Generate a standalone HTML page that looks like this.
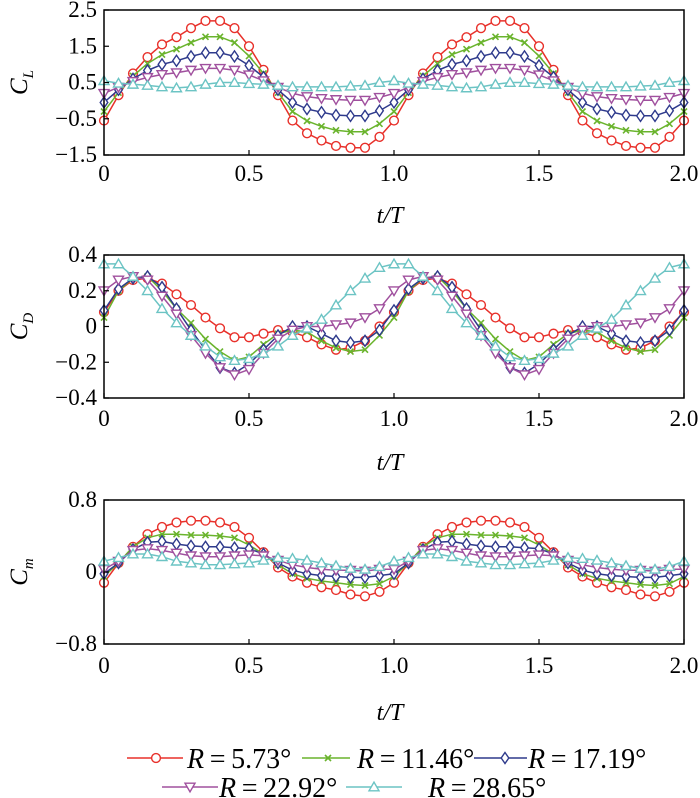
<!DOCTYPE html>
<html><head><meta charset="utf-8">
<style>
body{margin:0;background:#fff;}
svg{display:block;font-family:"Liberation Serif",serif;}
</style></head>
<body>
<svg id="chart" width="700" height="798" viewBox="0 0 700 798" xmlns="http://www.w3.org/2000/svg"></svg>
<script>
const tVals = [0,0.05,0.1,0.15,0.2,0.25,0.3,0.35,0.4,0.45,0.5,0.55,0.6,0.65,0.7,0.75,0.8,0.85,0.9,0.95,1.0,1.05,1.1,1.15,1.2,1.25,1.3,1.35,1.4,1.45,1.5,1.55,1.6,1.65,1.7,1.75,1.8,1.85,1.9,1.95,2.0];
const seriesNames = ["R=5.73°","R=11.46°","R=17.19°","R=22.92°","R=28.65°"];
const xTicks = [0,0.5,1.0,1.5,2.0];
const xTickLabels = ["0","0.5","1.0","1.5","2.0"];

const clRed = [-0.55,0.15,0.75,1.2,1.55,1.75,2.0,2.2,2.2,2.0,1.5,0.85,0.15,-0.55,-0.9,-1.1,-1.25,-1.3,-1.3,-1.0,-0.55,0.15,0.75,1.2,1.55,1.75,2.0,2.2,2.2,2.0,1.5,0.85,0.15,-0.55,-0.9,-1.1,-1.25,-1.3,-1.3,-1.0,-0.55];
const clGreen = [-0.3,0.22,0.68,1.02,1.27,1.42,1.6,1.76,1.76,1.6,1.23,0.75,0.22,-0.3,-0.56,-0.71,-0.82,-0.86,-0.86,-0.64,-0.3,0.22,0.68,1.02,1.27,1.42,1.6,1.76,1.76,1.6,1.23,0.75,0.22,-0.3,-0.56,-0.71,-0.82,-0.86,-0.86,-0.64,-0.3];
const clBlue = [-0.05,0.3,0.6,0.83,1.0,1.1,1.22,1.32,1.32,1.22,0.97,0.65,0.3,-0.05,-0.23,-0.32,-0.4,-0.42,-0.42,-0.28,-0.05,0.3,0.6,0.83,1.0,1.1,1.22,1.32,1.32,1.22,0.97,0.65,0.3,-0.05,-0.23,-0.32,-0.4,-0.42,-0.42,-0.28,-0.05];
const clPurple = [0.2,0.37,0.53,0.64,0.72,0.77,0.84,0.89,0.89,0.84,0.71,0.55,0.37,0.2,0.11,0.06,0.03,0.01,0.01,0.09,0.2,0.37,0.53,0.64,0.72,0.77,0.84,0.89,0.89,0.84,0.71,0.55,0.37,0.2,0.11,0.06,0.03,0.01,0.01,0.09,0.2];
const clCyan = [0.55,0.48,0.45,0.42,0.38,0.35,0.38,0.45,0.5,0.5,0.47,0.45,0.42,0.38,0.38,0.38,0.38,0.4,0.42,0.5,0.55,0.48,0.45,0.42,0.38,0.35,0.38,0.45,0.5,0.5,0.47,0.45,0.42,0.38,0.38,0.38,0.38,0.4,0.42,0.5,0.55];

const cdRed = [0.08,0.2,0.26,0.27,0.24,0.18,0.12,0.05,-0.01,-0.06,-0.06,-0.04,-0.02,-0.03,-0.06,-0.1,-0.13,-0.12,-0.08,0.0,0.08,0.2,0.26,0.27,0.24,0.18,0.12,0.05,-0.01,-0.06,-0.06,-0.04,-0.02,-0.03,-0.06,-0.1,-0.13,-0.12,-0.08,0.0,0.08];
const cdGreen = [0.05,0.2,0.27,0.28,0.2,0.1,0.02,-0.07,-0.14,-0.19,-0.17,-0.1,-0.04,-0.02,-0.03,-0.08,-0.12,-0.14,-0.13,-0.05,0.05,0.2,0.27,0.28,0.2,0.1,0.02,-0.07,-0.14,-0.19,-0.17,-0.1,-0.04,-0.02,-0.03,-0.08,-0.12,-0.14,-0.13,-0.05,0.05];
const cdBlue = [0.09,0.21,0.27,0.28,0.22,0.1,-0.02,-0.13,-0.23,-0.26,-0.21,-0.13,-0.05,0.0,0.0,-0.04,-0.08,-0.09,-0.08,-0.02,0.09,0.21,0.27,0.28,0.22,0.1,-0.02,-0.13,-0.23,-0.26,-0.21,-0.13,-0.05,0.0,0.0,-0.04,-0.08,-0.09,-0.08,-0.02,0.09];
const cdPurple = [0.2,0.26,0.28,0.26,0.17,0.07,-0.05,-0.15,-0.23,-0.27,-0.24,-0.15,-0.07,-0.02,0.0,0.0,0.01,0.02,0.05,0.1,0.2,0.26,0.28,0.26,0.17,0.07,-0.05,-0.15,-0.23,-0.27,-0.24,-0.15,-0.07,-0.02,0.0,0.0,0.01,0.02,0.05,0.1,0.2];
const cdCyan = [0.35,0.35,0.28,0.2,0.1,0.02,-0.05,-0.11,-0.17,-0.19,-0.18,-0.15,-0.11,-0.05,-0.01,0.04,0.12,0.2,0.27,0.33,0.35,0.35,0.28,0.2,0.1,0.02,-0.05,-0.11,-0.17,-0.19,-0.18,-0.15,-0.11,-0.05,-0.01,0.04,0.12,0.2,0.27,0.33,0.35];

const cmRed = [-0.12,0.1,0.28,0.42,0.5,0.55,0.57,0.57,0.55,0.5,0.38,0.22,0.05,-0.05,-0.12,-0.17,-0.2,-0.25,-0.27,-0.22,-0.12,0.1,0.28,0.42,0.5,0.55,0.57,0.57,0.55,0.5,0.38,0.22,0.05,-0.05,-0.12,-0.17,-0.2,-0.25,-0.27,-0.22,-0.12];
const cmGreen = [-0.05,0.1,0.28,0.38,0.42,0.42,0.41,0.41,0.4,0.38,0.3,0.2,0.08,-0.02,-0.07,-0.1,-0.12,-0.14,-0.15,-0.13,-0.05,0.1,0.28,0.38,0.42,0.42,0.41,0.41,0.4,0.38,0.3,0.2,0.08,-0.02,-0.07,-0.1,-0.12,-0.14,-0.15,-0.13,-0.05];
const cmBlue = [-0.02,0.1,0.25,0.33,0.34,0.31,0.29,0.28,0.28,0.27,0.26,0.2,0.1,0.02,-0.02,-0.04,-0.05,-0.06,-0.06,-0.04,-0.02,0.1,0.25,0.33,0.34,0.31,0.29,0.28,0.28,0.27,0.26,0.2,0.1,0.02,-0.02,-0.04,-0.05,-0.06,-0.06,-0.04,-0.02];
const cmPurple = [0.03,0.12,0.24,0.26,0.24,0.21,0.18,0.17,0.17,0.18,0.19,0.18,0.13,0.08,0.05,0.03,0.02,0.02,0.01,0.03,0.03,0.12,0.24,0.26,0.24,0.21,0.18,0.17,0.17,0.18,0.19,0.18,0.13,0.08,0.05,0.03,0.02,0.02,0.01,0.03,0.03];
const cmCyan = [0.12,0.16,0.2,0.2,0.17,0.12,0.1,0.08,0.08,0.09,0.1,0.13,0.16,0.15,0.13,0.1,0.07,0.04,0.03,0.06,0.12,0.16,0.2,0.2,0.17,0.12,0.1,0.08,0.08,0.09,0.1,0.13,0.16,0.15,0.13,0.1,0.07,0.04,0.03,0.06,0.12];

const clTicks = [2.5,1.5,0.5,-0.5,-1.5];
const clTickLabels = ["2.5","1.5","0.5","\u22120.5","\u22121.5"];
const cdTicks = [0.4,0.2,0,-0.2,-0.4];
const cdTickLabels = ["0.4","0.2","0","\u22120.2","\u22120.4"];
const cmTicks = [0.8,0,-0.8];
const cmTickLabels = ["0.8","0","\u22120.8"];

const colors = ["#e8302a","#6ab42d","#2e3a8c","#a0509e","#6cc4c4"];
const markers = ["circle","cross","diamond","tridown","triup"];
const NS = "http://www.w3.org/2000/svg";
const svg = document.getElementById("chart");

function mk(tag, attrs, parent){
  const e = document.createElementNS(NS, tag);
  for (const k in attrs) e.setAttribute(k, attrs[k]);
  (parent||svg).appendChild(e);
  return e;
}

function drawMarker(type, x, y, color, g){
  let e;
  if (type==="circle"){ e = mk("circle",{cx:x,cy:y,r:4.4,fill:"#fff",stroke:color,"stroke-width":1.4},g); }
  else if (type==="cross"){ e = mk("path",{d:`M${x-3},${y-3}L${x+3},${y+3}M${x-3},${y+3}L${x+3},${y-3}`,stroke:color,"stroke-width":1.6,fill:"none"},g); }
  else if (type==="diamond"){ e = mk("path",{d:`M${x},${y-5.5}L${x+3.8},${y}L${x},${y+5.5}L${x-3.8},${y}Z`,fill:"#fff",stroke:color,"stroke-width":1.4},g); }
  else if (type==="tridown"){ e = mk("path",{d:`M${x-5},${y-3.8}L${x+5},${y-3.8}L${x},${y+4.8}Z`,fill:"#fff",stroke:color,"stroke-width":1.4},g); }
  else { e = mk("path",{d:`M${x-5},${y+3.8}L${x+5},${y+3.8}L${x},${y-4.8}Z`,fill:"#fff",stroke:color,"stroke-width":1.4},g); }
  
  
}

const X0 = 104, X1 = 684;
function xScale(t){ return X0 + (t - 0) / 2 * (X1 - X0); }

function panel(name, top, bottom, ymax, ymin, ticks, tickLabels, series, title, sub, tickLabelY, titleY){
  const g = mk("g",{});
  
  
  const yScale = v => top + (ymax - v) / (ymax - ymin) * (bottom - top);
  series.forEach((vals, si) => {
    const sg = mk("g",{},g);
    
    
    const pts = vals.map((v,i)=>xScale(tVals[i]).toFixed(1)+","+yScale(v).toFixed(1)).join(" ");
    const pl = mk("polyline",{points:pts,fill:"none",stroke:colors[si],"stroke-width":1.5,"stroke-linejoin":"round"},sg);
    
    
    vals.forEach((v,i)=>drawMarker(markers[si], xScale(tVals[i]), yScale(v), colors[si], sg));
  });
  const fr = mk("rect",{x:X0,y:top,width:X1-X0,height:bottom-top,fill:"none",stroke:"#000","stroke-width":1.5},g);
  
  
  ticks.forEach((v,i)=>{
    const y = yScale(v);
    const tl = mk("line",{x1:X0,x2:X0+5,y1:y,y2:y,stroke:"#000","stroke-width":1.2},g);
    
    
    const tx = mk("text",{x:97,y:y+7,"text-anchor":"end","font-size":23},g);
    tx.textContent = tickLabels[i];
    
    
  });
  xTicks.forEach((v,i)=>{
    const x = xScale(v);
    const tl = mk("line",{x1:x,x2:x,y1:bottom,y2:bottom-5,stroke:"#000","stroke-width":1.2},g);
    
    
    const tx = mk("text",{x:x,y:tickLabelY,"text-anchor":"middle","font-size":23},g);
    tx.textContent = xTickLabels[i];
    
    
  });
  const xt = mk("text",{x:390,y:titleY,"text-anchor":"middle","font-size":24,"font-style":"italic"},g);
  xt.textContent = "t/T";
  
  
  const cy = (top+bottom)/2;
  const yt = mk("text",{x:0,y:0,transform:`translate(27,${cy}) rotate(-90)`,"text-anchor":"middle","font-size":25,"font-style":"italic"},g);
  yt.textContent = title;
  const ts = mk("tspan",{"font-size":15,dy:6},yt);
  ts.textContent = sub;
  
  
}

panel("lift-coefficient-panel",10,155,2.5,-1.5,clTicks,clTickLabels,[clRed,clGreen,clBlue,clPurple,clCyan],"C","L",181,223);
panel("drag-coefficient-panel",255,398,0.4,-0.4,cdTicks,cdTickLabels,[cdRed,cdGreen,cdBlue,cdPurple,cdCyan],"C","D",426,470);
panel("moment-coefficient-panel",500,644,0.8,-0.8,cmTicks,cmTickLabels,[cmRed,cmGreen,cmBlue,cmPurple,cmCyan],"C","m",673,720);

const legendPos = [
  {x1:127,x2:183,m:156,tx:187,y:758},
  {x1:302,x2:350,m:328,tx:357,y:758},
  {x1:474,x2:527,m:505,tx:528,y:758},
  {x1:162,x2:218,m:190,tx:219,y:787},
  {x1:346,x2:402,m:374,tx:428,y:787}
];
const lg = mk("g",{});


legendPos.forEach((p,i)=>{
  const eg = mk("g",{},lg);
  
  
  mk("line",{x1:p.x1,x2:p.x2,y1:p.y,y2:p.y,stroke:colors[i],"stroke-width":1.5},eg);
  drawMarker(markers[i], p.m, p.y, colors[i], eg);
  const t = mk("text",{x:p.tx,y:p.y+10,"font-size":28},eg);
  const r = mk("tspan",{"font-style":"italic"},t); r.textContent = "R";
  const rest = mk("tspan",{},t); rest.textContent = "\u2009=\u2009" + seriesNames[i].slice(2);
});
</script>
</body></html>
